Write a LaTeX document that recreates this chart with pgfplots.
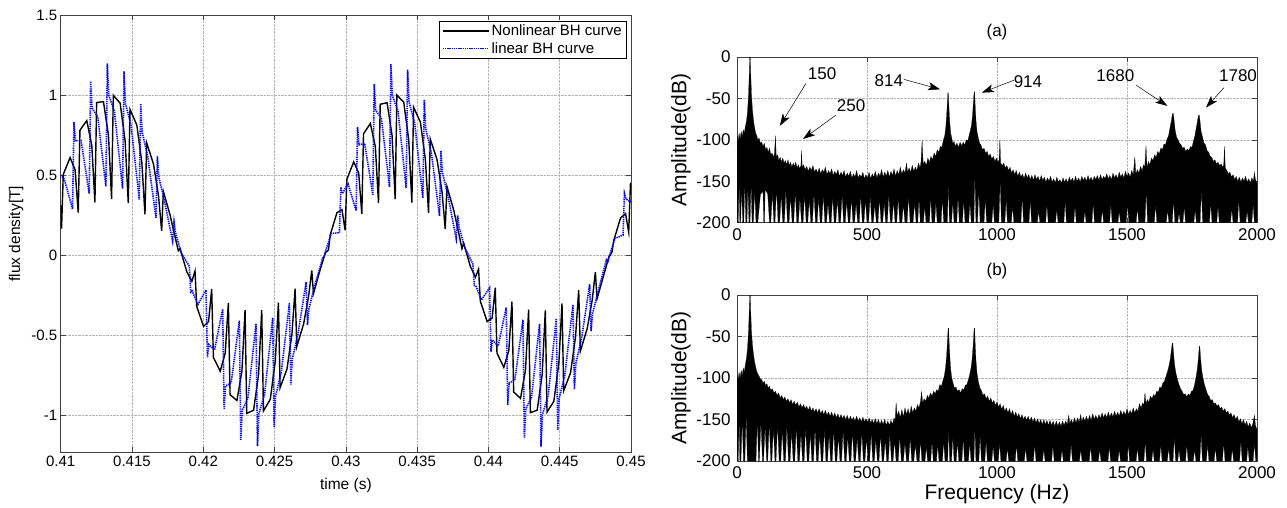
\documentclass[border=0pt]{standalone}
\usepackage{fontspec}
\setmainfont{Liberation Sans}
\usepackage{pgfplots}
\pgfplotsset{compat=1.18}
\usetikzlibrary{arrows.meta}
\definecolor{lblue}{rgb}{0,0,1}
\begin{document}
\begin{tikzpicture}
\useasboundingbox (0pt,0pt) rectangle (1287pt,507pt);
\pgfplotsset{
  mstyle/.style={scale only axis, axis line style={black!75, line width=0.6pt},
    tick align=inside, major tick length=5pt, tick style={black!75, line width=0.6pt},
    grid=major, grid style={densely dotted, black!30, line width=0.5pt}},
}
% ---------------- left panel ----------------
\begin{axis}[mstyle, at={(60.7pt,54.7pt)}, anchor=south west, width=570.3pt, height=437.3pt,
  xmin=0.41, xmax=0.45, ymin=-1.233, ymax=1.5,
  xtick={0.41,0.415,0.42,0.425,0.43,0.435,0.44,0.445,0.45},
  xticklabels={0.41,0.415,0.42,0.425,0.43,0.435,0.44,0.445,0.45},
  ytick={-1,-0.5,0,0.5,1,1.5}, yticklabels={-1,-0.5,0,0.5,1,1.5},
  ticklabel style={font=\fontsize{15}{18}\selectfont},
  xlabel={time (s)}, ylabel={flux density[T]},
  label style={font=\fontsize{15.5}{18}\selectfont},
  xlabel style={at={(axis description cs:0.5,-0.077)}, anchor=center},
  ylabel style={at={(axis description cs:-0.078,0.5)}, anchor=center},
  legend style={at={(axis description cs:1,1)}, anchor=north east, xshift=-4pt, yshift=-5.7pt,
    draw=black, line width=0.6pt, font=\fontsize{15}{18}\selectfont, row sep=1pt},
  legend cell align=left,
  legend image code/.code={\draw[#1] (0pt,0pt) -- (46pt,0pt);},
]
\addplot[black, line width=1.4pt] coordinates {
(0.41000,0.31)
(0.41006,0.165)(0.41018,0.504)(0.41066,0.609)(0.41101,0.532)
(0.41123,0.265)(0.41135,0.780)(0.41183,0.840)(0.41218,0.686)
(0.41240,0.329)(0.41252,0.953)(0.41300,0.958)(0.41335,0.749)
(0.41357,0.350)(0.41369,0.998)(0.41417,0.949)(0.41452,0.712)
(0.41474,0.324)(0.41486,0.910)(0.41534,0.812)(0.41569,0.579)
(0.41591,0.254)(0.41603,0.701)(0.41651,0.568)(0.41686,0.370)
(0.41708,0.151)(0.41720,0.397)(0.41768,0.247)(0.41803,0.110)
(0.41825,0.027)(0.41837,0.041)(0.41885,-0.106)(0.41920,-0.164)
(0.41942,-0.100)(0.41954,-0.321)(0.42002,-0.446)(0.42037,-0.416)
(0.42059,-0.214)(0.42071,-0.640)(0.42119,-0.726)(0.42154,-0.612)
(0.42176,-0.299)(0.42188,-0.873)(0.42236,-0.909)(0.42271,-0.727)
(0.42293,-0.344)(0.42305,-0.990)(0.42353,-0.970)(0.42388,-0.745)
(0.42410,-0.344)(0.42422,-0.975)(0.42470,-0.902)(0.42505,-0.663)
(0.42527,-0.297)(0.42539,-0.829)(0.42587,-0.713)(0.42622,-0.493)
(0.42644,-0.211)(0.42656,-0.572)(0.42704,-0.430)(0.42739,-0.256)
(0.42761,-0.097)(0.42773,-0.240)(0.42821,-0.088)(0.42856,0.014)
(0.42878,0.031)(0.42890,0.125)(0.42938,0.265)(0.42973,0.283)
(0.42995,0.154)(0.43007,0.473)(0.43055,0.582)(0.43090,0.513)
(0.43112,0.257)(0.43124,0.758)(0.43172,0.822)(0.43207,0.676)
(0.43229,0.325)(0.43241,0.942)(0.43289,0.952)(0.43324,0.748)
(0.43346,0.350)(0.43358,1.000)(0.43406,0.955)(0.43441,0.720)
(0.43463,0.328)(0.43475,0.924)(0.43523,0.830)(0.43558,0.596)
(0.43580,0.263)(0.43592,0.725)(0.43640,0.595)(0.43675,0.392)
(0.43697,0.162)(0.43709,0.429)(0.43757,0.279)(0.43792,0.136)
(0.43814,0.040)(0.43826,0.075)(0.43874,-0.073)(0.43909,-0.138)
(0.43931,-0.088)(0.43943,-0.288)(0.43991,-0.416)(0.44026,-0.394)
(0.44048,-0.204)(0.44060,-0.613)(0.44108,-0.702)(0.44143,-0.597)
(0.44165,-0.292)(0.44177,-0.856)(0.44225,-0.896)(0.44260,-0.720)
(0.44282,-0.342)(0.44294,-0.985)(0.44342,-0.970)(0.44377,-0.747)
(0.44399,-0.346)(0.44411,-0.982)(0.44459,-0.914)(0.44494,-0.675)
(0.44516,-0.303)(0.44528,-0.848)(0.44576,-0.736)(0.44611,-0.511)
(0.44633,-0.220)(0.44645,-0.600)(0.44693,-0.459)(0.44728,-0.281)
(0.44750,-0.108)(0.44762,-0.273)(0.44810,-0.122)(0.44845,-0.012)
(0.44867,0.019)(0.44879,0.091)(0.44927,0.232)(0.44962,0.258)
(0.44984,0.143)(0.44996,0.443)(0.45000,0.45)
};
\addlegendentry{Nonlinear BH curve}
\addplot[lblue, line width=1.6pt, dash pattern=on 1.3pt off 0.9pt] coordinates {
(0.41000,0.50)(0.41026,0.472)(0.41083,0.287)
(0.41093,0.830)(0.41103,0.714)(0.41143,0.716)(0.41200,0.383)
(0.41210,1.086)(0.41220,0.918)(0.41260,0.864)(0.41317,0.428)
(0.41327,1.197)(0.41337,0.999)(0.41377,0.897)(0.41434,0.415)
(0.41444,1.148)(0.41454,0.947)(0.41494,0.809)(0.41551,0.347)
(0.41561,0.946)(0.41571,0.769)(0.41611,0.614)(0.41668,0.233)
(0.41678,0.617)(0.41688,0.487)(0.41728,0.337)(0.41785,0.087)
(0.41795,0.206)(0.41805,0.141)(0.41845,0.014)(0.41902,-0.070)
(0.41912,-0.232)(0.41922,-0.224)(0.41962,-0.310)(0.42019,-0.218)
(0.42029,-0.640)(0.42039,-0.559)(0.42079,-0.593)(0.42136,-0.337)
(0.42146,-0.962)(0.42156,-0.820)(0.42196,-0.797)(0.42253,-0.410)
(0.42263,-1.155)(0.42273,-0.971)(0.42313,-0.894)(0.42370,-0.429)
(0.42380,-1.195)(0.42390,-0.992)(0.42430,-0.872)(0.42487,-0.391)
(0.42497,-1.074)(0.42507,-0.881)(0.42547,-0.733)(0.42604,-0.300)
(0.42614,-0.810)(0.42624,-0.652)(0.42664,-0.496)(0.42721,-0.170)
(0.42731,-0.438)(0.42741,-0.336)(0.42781,-0.194)(0.42838,-0.016)
(0.42848,-0.008)(0.42858,0.025)(0.42898,0.135)(0.42955,0.139)
(0.42965,0.424)(0.42975,0.383)(0.43015,0.446)(0.43072,0.276)
(0.43082,0.799)(0.43092,0.689)(0.43132,0.697)(0.43189,0.376)
(0.43199,1.068)(0.43209,0.904)(0.43249,0.855)(0.43306,0.426)
(0.43316,1.193)(0.43326,0.997)(0.43366,0.899)(0.43423,0.419)
(0.43433,1.159)(0.43443,0.958)(0.43483,0.823)(0.43540,0.356)
(0.43550,0.971)(0.43560,0.790)(0.43600,0.636)(0.43657,0.245)
(0.43667,0.653)(0.43677,0.517)(0.43717,0.365)(0.43774,0.102)
(0.43784,0.247)(0.43794,0.175)(0.43834,0.045)(0.43891,-0.055)
(0.43901,-0.191)(0.43911,-0.191)(0.43951,-0.281)(0.44008,-0.205)
(0.44018,-0.604)(0.44028,-0.531)(0.44068,-0.569)(0.44125,-0.327)
(0.44135,-0.937)(0.44145,-0.800)(0.44185,-0.782)(0.44242,-0.405)
(0.44252,-1.144)(0.44262,-0.962)(0.44302,-0.890)(0.44359,-0.430)
(0.44369,-1.198)(0.44379,-0.996)(0.44419,-0.879)(0.44476,-0.397)
(0.44486,-1.092)(0.44496,-0.897)(0.44536,-0.751)(0.44593,-0.311)
(0.44603,-0.840)(0.44613,-0.678)(0.44653,-0.522)(0.44710,-0.183)
(0.44720,-0.477)(0.44730,-0.368)(0.44770,-0.224)(0.44827,-0.031)
(0.44837,-0.049)(0.44847,-0.009)(0.44887,0.103)(0.44944,0.125)
(0.44954,0.385)(0.44964,0.351)(0.45000,0.33)
};
\addlegendentry{linear BH curve}
\end{axis}
% ---------------- right top (a) ----------------
\begin{axis}[mstyle, at={(737pt,284.3pt)}, anchor=south west, width=520pt, height=165.7pt,
  xmin=0, xmax=2000, ymin=-200, ymax=0,
  xtick={0,500,1000,1500,2000}, xticklabels={0,500,1000,1500,2000},
  ytick={-200,-150,-100,-50,0}, yticklabels={-200,-150,-100,-50,0},
  ticklabel style={font=\fontsize{17}{20}\selectfont},
  xticklabel style={yshift=-2pt}, yticklabel style={xshift=-3pt},
  ylabel={Amplitude(dB)},
  label style={font=\fontsize{21}{24}\selectfont},
  ylabel style={at={(axis description cs:-0.108,0.5)}, anchor=center},
  title={(a)}, title style={at={(axis description cs:0.5,1)}, anchor=center, yshift=18.7pt, font=\fontsize{17}{20}\selectfont},
]
\addplot[fill=black, draw=black, line width=0.2pt] coordinates {
(0,-200)(0,-95)(4,-102)(8,-92)(12,-99)(16,-90)(20,-96)(24,-88)(28,-92)(32,-84)(36,-78)(40,-68)(44,-48)(47,-22)(49,0)(51,0)(53,-22)(56,-48)(60,-66)(64,-78)(68,-86)(72,-92)(76,-95)(80,-100)(85,-98)(90,-104)(95,-103)(100,-108)(105,-104)(110,-112)(115,-109)(120,-115)(125,-110)(130,-118)(135,-116)(140,-121)(144,-117)(148,-95)(151,-121)(156,-118)(161,-125)(166,-121)(171,-127)(176,-122)(181,-128)(186,-125)(191,-130)(196,-124)(201,-131)(206,-127)(211,-133)(216,-128)(221,-132)(226,-127)(231,-134)(236,-130)(241,-135)(246,-131)(248,-113)(251,-134)(256,-130)(262,-136)(268,-132)(274,-138)(280,-133)(286,-137)(292,-131)(298,-139)(304,-135)(310,-140)(316,-134)(322,-141)(328,-136)(334,-139)(340,-133)(346,-142)(352,-137)(358,-141)(364,-135)(370,-143)(376,-138)(382,-142)(388,-136)(394,-144)(400,-139)(406,-143)(412,-137)(418,-145)(424,-140)(430,-144)(436,-138)(442,-146)(448,-141)(454,-145)(460,-137)(466,-146)(472,-142)(478,-145)(484,-139)(490,-147)(496,-142)(502,-146)(508,-139)(514,-147)(520,-141)(526,-145)(532,-138)(538,-146)(544,-140)(550,-144)(556,-136)(562,-145)(568,-139)(574,-144)(580,-137)(586,-145)(592,-138)(598,-143)(604,-135)(610,-144)(616,-137)(622,-142)(628,-133)(634,-141)(640,-136)(646,-140)(652,-128)(656,-139)(662,-134)(668,-139)(674,-131)(680,-138)(686,-133)(692,-137)(698,-128)(704,-134)(708,-126)(712,-100)(716,-129)(722,-126)(728,-131)(734,-122)(740,-127)(746,-120)(752,-124)(758,-116)(764,-120)(770,-112)(776,-115)(782,-108)(788,-109)(794,-100)(799,-95)(803,-85)(806,-72)(809,-56)(811,-43)(813,-43)(815,-60)(818,-78)(822,-92)(826,-98)(830,-104)(835,-102)(840,-108)(846,-104)(852,-109)(858,-103)(864,-107)(870,-103)(876,-106)(882,-100)(888,-101)(893,-94)(898,-88)(902,-82)(906,-70)(909,-56)(912,-42)(914,-42)(916,-58)(919,-76)(923,-90)(928,-98)(933,-104)(938,-106)(944,-112)(950,-110)(956,-116)(962,-114)(968,-120)(974,-117)(980,-123)(986,-120)(992,-126)(998,-122)(1004,-127)(1008,-124)(1011,-100)(1014,-128)(1020,-131)(1026,-128)(1032,-134)(1038,-131)(1044,-137)(1050,-133)(1056,-140)(1062,-136)(1068,-142)(1074,-137)(1080,-144)(1086,-139)(1092,-145)(1098,-141)(1104,-147)(1110,-140)(1116,-146)(1122,-142)(1128,-148)(1134,-143)(1140,-149)(1146,-142)(1152,-148)(1158,-144)(1164,-150)(1170,-143)(1176,-149)(1182,-145)(1188,-151)(1194,-146)(1200,-150)(1206,-144)(1212,-151)(1218,-147)(1224,-152)(1230,-145)(1236,-151)(1242,-148)(1248,-152)(1254,-146)(1260,-151)(1266,-147)(1272,-152)(1278,-145)(1284,-150)(1290,-146)(1296,-151)(1302,-144)(1308,-150)(1314,-146)(1320,-151)(1326,-144)(1332,-149)(1338,-145)(1344,-150)(1350,-143)(1356,-149)(1362,-145)(1368,-150)(1374,-144)(1380,-148)(1386,-143)(1392,-149)(1398,-142)(1404,-148)(1410,-144)(1416,-147)(1422,-141)(1428,-147)(1434,-143)(1440,-148)(1446,-140)(1452,-146)(1458,-142)(1464,-147)(1470,-139)(1476,-145)(1482,-141)(1488,-146)(1494,-138)(1500,-144)(1506,-140)(1512,-145)(1518,-137)(1524,-142)(1530,-121)(1534,-141)(1540,-136)(1546,-140)(1552,-132)(1558,-137)(1564,-130)(1568,-134)(1573,-107)(1577,-134)(1582,-126)(1588,-130)(1594,-122)(1600,-125)(1606,-118)(1612,-121)(1618,-114)(1624,-117)(1630,-110)(1636,-112)(1642,-105)(1648,-106)(1654,-99)(1660,-95)(1665,-86)(1670,-78)(1674,-70)(1676,-68)(1678,-68)(1681,-76)(1685,-88)(1690,-96)(1696,-100)(1702,-104)(1708,-106)(1714,-110)(1720,-109)(1726,-114)(1732,-111)(1738,-113)(1744,-108)(1750,-109)(1756,-101)(1761,-95)(1766,-86)(1770,-79)(1774,-72)(1776,-70)(1778,-70)(1781,-78)(1785,-90)(1790,-96)(1796,-104)(1802,-106)(1808,-113)(1814,-115)(1820,-120)(1826,-121)(1832,-126)(1838,-124)(1844,-129)(1850,-127)(1856,-131)(1862,-129)(1868,-133)(1872,-130)(1875,-108)(1878,-134)(1884,-137)(1890,-141)(1896,-139)(1902,-145)(1908,-142)(1914,-148)(1920,-144)(1926,-150)(1932,-145)(1938,-151)(1944,-146)(1950,-150)(1956,-144)(1962,-151)(1968,-147)(1974,-152)(1980,-146)(1986,-150)(1990,-139)(1994,-148)(2000,-152)(2000,-200)
(1990,-200)(1985,-178)(1980,-200)(1967,-200)(1962,-186)(1957,-200)(1935,-200)(1930,-172)(1925,-200)(1908,-200)(1903,-183)(1898,-200)(1855,-200)(1850,-180)(1845,-200)(1827,-200)(1822,-176)(1817,-200)(1791,-200)(1786,-160)(1781,-200)(1767,-200)(1762,-185)(1757,-200)(1725,-200)(1720,-180)(1715,-200)(1705,-200)(1700,-188)(1695,-200)(1684,-200)(1679,-172)(1674,-200)(1661,-200)(1656,-184)(1651,-200)(1615,-200)(1610,-178)(1605,-200)(1579,-200)(1574,-160)(1569,-200)(1545,-200)(1540,-182)(1535,-200)(1507,-200)(1502,-176)(1497,-200)(1475,-200)(1470,-186)(1465,-200)(1443,-200)(1438,-178)(1433,-200)(1410,-200)(1405,-184)(1400,-200)(1375,-200)(1370,-176)(1365,-200)(1343,-200)(1338,-186)(1333,-200)(1305,-200)(1300,-180)(1295,-200)(1267,-200)(1262,-174)(1257,-200)(1235,-200)(1230,-184)(1225,-200)(1197,-200)(1192,-178)(1187,-200)(1165,-200)(1160,-186)(1155,-200)(1133,-200)(1128,-172)(1123,-200)(1102,-200)(1097,-168)(1092,-200)(1065,-200)(1060,-180)(1055,-200)(1040,-200)(1035,-172)(1030,-200)(1017,-200)(1012,-150)(1007,-200)(990,-200)(985,-178)(980,-200)(960,-200)(955,-170)(950,-200)(935,-200)(930,-160)(925,-200)(919,-200)(915,-140)(911,-200)(901,-200)(896,-176)(891,-200)(877,-200)(872,-172)(867,-200)(855,-200)(850,-168)(845,-200)(835,-200)(830,-175)(825,-200)(817,-200)(813,-150)(809,-200)(795,-200)(790,-170)(785,-200)(770,-200)(765,-175)(760,-200)(750,-200)(745,-168)(740,-200)(727,-200)(722,-180)(717,-200)(705,-200)(700,-170)(695,-200)(689,-200)(683,-176)(677,-200)(666,-200)(660,-168)(654,-200)(646,-200)(640,-178)(634,-200)(626,-200)(620,-170)(614,-200)(608,-200)(602,-174)(596,-200)(590,-200)(584,-166)(578,-200)(572,-200)(566,-176)(560,-200)(554,-200)(548,-170)(542,-200)(536,-200)(530,-178)(524,-200)(518,-200)(512,-168)(506,-200)(500,-200)(494,-172)(488,-200)(482,-200)(476,-166)(470,-200)(464,-200)(458,-176)(452,-200)(446,-200)(440,-170)(434,-200)(428,-200)(422,-174)(416,-200)(410,-200)(404,-166)(398,-200)(392,-200)(386,-172)(380,-200)(374,-200)(368,-168)(362,-200)(356,-200)(350,-176)(344,-200)(338,-200)(332,-166)(326,-200)(320,-200)(314,-170)(308,-200)(302,-200)(296,-164)(290,-200)(284,-200)(278,-172)(272,-200)(266,-200)(260,-166)(254,-200)(248,-200)(242,-170)(236,-200)(230,-200)(224,-162)(218,-200)(212,-200)(206,-168)(200,-200)(194,-200)(188,-160)(182,-200)(176,-200)(170,-166)(164,-200)(158,-200)(152,-158)(146,-200)(142,-200)(136,-164)(130,-200)(125,-200)(118,-165)(108,-160)(106,-200)(103,-200)(100,-162)(90,-166)(80,-200)(73,-200)(68,-160)(63,-200)(58,-200)(54,-150)(50,-200)(46,-200)(42,-156)(38,-200)(34,-200)(30,-150)(26,-200)(22,-200)(18,-158)(14,-200)(11,-200)(8,-150)(5,-200)(0,-200)
};
\begin{scope}[font=\fontsize{17}{20}\selectfont]
\node at (axis cs:327,-20.5) {150};
\node at (axis cs:439,-59) {250};
\node at (axis cs:584,-28) {814};
\node at (axis cs:1119,-30) {914};
\node at (axis cs:1455,-22) {1680};
\node at (axis cs:1927,-22) {1780};
\end{scope}
\begin{scope}[line width=0.5pt, -{Stealth[length=12pt,width=8pt,inset=3pt]}]
\draw (axis cs:265,-32) -- (axis cs:165,-83);
\draw (axis cs:381,-70) -- (axis cs:254,-99);
\draw (axis cs:642,-27) -- (axis cs:781,-39);
\draw (axis cs:1065,-28) -- (axis cs:942,-43);
\draw (axis cs:1535,-34) -- (axis cs:1655,-59);
\draw (axis cs:1873,-37) -- (axis cs:1804,-61);
\end{scope}
\end{axis}
% ---------------- right bottom (b) ----------------
\begin{axis}[mstyle, at={(737pt,46pt)}, anchor=south west, width=520pt, height=166pt,
  xmin=0, xmax=2000, ymin=-200, ymax=0,
  xtick={0,500,1000,1500,2000}, xticklabels={0,500,1000,1500,2000},
  ytick={-200,-150,-100,-50,0}, yticklabels={-200,-150,-100,-50,0},
  ticklabel style={font=\fontsize{17}{20}\selectfont},
  xticklabel style={yshift=-2pt}, yticklabel style={xshift=-3pt},
  xlabel={Frequency (Hz)}, ylabel={Amplitude(dB)},
  label style={font=\fontsize{21}{24}\selectfont},
  xlabel style={at={(axis description cs:0.5,-0.2)}, anchor=center},
  ylabel style={at={(axis description cs:-0.108,0.5)}, anchor=center},
  title={(b)}, title style={at={(axis description cs:0.5,1)}, anchor=center, yshift=17.7pt, font=\fontsize{17}{20}\selectfont},
]
\addplot[fill=black, draw=black, line width=0.2pt] coordinates {
(0,-200)(0,-96)(4,-103)(8,-93)(12,-100)(16,-91)(20,-97)(24,-88)(28,-93)(32,-84)(36,-77)(40,-66)(44,-46)(47,-20)(49,0)(51,0)(53,-22)(56,-46)(60,-62)(64,-73)(68,-81)(72,-87)(76,-92)(80,-95)(85,-98)(90,-101)(95,-102)(100,-106)(105,-104)(110,-109)(115,-107)(120,-112)(125,-110)(130,-115)(136,-113)(142,-118)(148,-116)(154,-121)(160,-118)(166,-124)(172,-121)(178,-126)(184,-123)(190,-128)(196,-125)(202,-130)(208,-126)(214,-132)(220,-128)(226,-133)(232,-129)(238,-135)(244,-131)(250,-136)(256,-132)(262,-137)(268,-134)(274,-139)(280,-134)(286,-140)(292,-136)(298,-141)(304,-137)(310,-142)(316,-137)(322,-143)(328,-139)(334,-144)(340,-139)(346,-145)(352,-141)(358,-146)(364,-141)(370,-147)(376,-142)(382,-148)(388,-143)(394,-149)(400,-144)(406,-149)(412,-145)(418,-150)(424,-145)(430,-151)(436,-146)(442,-151)(448,-147)(454,-152)(460,-146)(466,-152)(472,-148)(478,-153)(484,-147)(490,-153)(496,-149)(502,-154)(508,-148)(514,-154)(520,-150)(526,-155)(532,-149)(538,-155)(544,-150)(550,-156)(556,-151)(562,-156)(568,-150)(574,-157)(580,-152)(586,-157)(592,-151)(598,-156)(604,-148)(608,-152)(612,-130)(616,-146)(622,-140)(628,-148)(634,-138)(640,-147)(646,-136)(652,-144)(658,-137)(664,-145)(670,-134)(676,-142)(682,-136)(688,-140)(694,-132)(700,-136)(706,-128)(710,-116)(714,-130)(720,-125)(726,-128)(732,-121)(738,-124)(744,-118)(750,-122)(756,-116)(762,-119)(768,-114)(774,-116)(780,-108)(786,-110)(792,-103)(797,-98)(802,-88)(806,-74)(809,-58)(812,-40)(814,-40)(816,-58)(819,-76)(822,-90)(826,-100)(831,-106)(836,-112)(842,-111)(848,-116)(854,-114)(860,-118)(866,-113)(872,-114)(878,-109)(884,-108)(890,-102)(895,-96)(900,-88)(904,-78)(908,-62)(912,-40)(914,-40)(916,-58)(919,-78)(923,-94)(928,-104)(934,-112)(940,-115)(946,-121)(952,-119)(958,-125)(964,-122)(970,-128)(976,-124)(982,-130)(988,-127)(994,-133)(1000,-129)(1006,-135)(1012,-131)(1018,-138)(1024,-133)(1030,-140)(1036,-136)(1042,-142)(1048,-137)(1054,-144)(1060,-139)(1066,-146)(1072,-141)(1078,-147)(1084,-143)(1090,-149)(1096,-144)(1102,-150)(1108,-146)(1114,-151)(1120,-146)(1126,-152)(1132,-147)(1138,-153)(1144,-148)(1150,-154)(1156,-149)(1162,-155)(1168,-150)(1174,-156)(1180,-150)(1186,-156)(1192,-151)(1198,-157)(1204,-151)(1210,-157)(1216,-152)(1222,-158)(1228,-152)(1234,-158)(1240,-153)(1246,-158)(1252,-152)(1258,-157)(1264,-152)(1270,-156)(1276,-145)(1280,-155)(1286,-150)(1292,-155)(1298,-148)(1304,-154)(1310,-148)(1316,-153)(1322,-144)(1326,-153)(1332,-147)(1338,-152)(1344,-146)(1350,-152)(1356,-145)(1362,-151)(1368,-143)(1374,-150)(1380,-145)(1386,-150)(1392,-144)(1398,-149)(1404,-142)(1410,-148)(1416,-143)(1422,-148)(1428,-141)(1434,-147)(1440,-142)(1446,-147)(1452,-140)(1458,-146)(1464,-141)(1470,-146)(1476,-139)(1482,-145)(1488,-140)(1494,-145)(1500,-137)(1506,-144)(1512,-139)(1518,-143)(1524,-136)(1530,-142)(1536,-137)(1542,-140)(1548,-131)(1554,-136)(1560,-130)(1565,-133)(1569,-118)(1573,-131)(1578,-126)(1584,-129)(1590,-122)(1596,-125)(1602,-120)(1608,-122)(1614,-116)(1620,-117)(1626,-111)(1632,-112)(1638,-106)(1644,-104)(1650,-98)(1656,-92)(1661,-86)(1666,-78)(1670,-68)(1674,-58)(1676,-58)(1679,-70)(1683,-84)(1688,-94)(1694,-102)(1700,-108)(1706,-113)(1712,-116)(1718,-120)(1724,-119)(1730,-123)(1736,-119)(1742,-121)(1748,-116)(1754,-115)(1760,-108)(1765,-100)(1770,-90)(1774,-78)(1778,-62)(1780,-62)(1783,-76)(1787,-90)(1792,-100)(1798,-108)(1804,-114)(1810,-120)(1816,-122)(1822,-127)(1828,-126)(1834,-131)(1840,-130)(1846,-134)(1852,-132)(1858,-137)(1864,-135)(1870,-140)(1876,-137)(1882,-142)(1888,-140)(1894,-145)(1900,-142)(1906,-148)(1912,-144)(1918,-150)(1924,-146)(1930,-153)(1936,-149)(1942,-155)(1948,-150)(1954,-157)(1960,-152)(1966,-159)(1972,-154)(1978,-160)(1984,-155)(1990,-145)(1994,-157)(2000,-162)(2000,-200)
(1995,-200)(1990,-178)(1985,-200)(1970,-200)(1965,-182)(1960,-200)(1943,-200)(1938,-176)(1933,-200)(1910,-200)(1905,-185)(1900,-200)(1877,-200)(1872,-178)(1867,-200)(1845,-200)(1840,-184)(1835,-200)(1815,-200)(1810,-180)(1805,-200)(1790,-200)(1785,-168)(1780,-200)(1765,-200)(1760,-186)(1755,-200)(1735,-200)(1730,-180)(1725,-200)(1705,-200)(1700,-186)(1695,-200)(1687,-200)(1682,-170)(1677,-200)(1665,-200)(1660,-184)(1655,-200)(1635,-200)(1630,-180)(1625,-200)(1605,-200)(1600,-186)(1595,-200)(1575,-200)(1570,-176)(1565,-200)(1545,-200)(1540,-184)(1535,-200)(1510,-200)(1505,-180)(1500,-200)(1475,-200)(1470,-186)(1465,-200)(1437,-200)(1432,-182)(1427,-200)(1400,-200)(1395,-186)(1390,-200)(1365,-200)(1360,-182)(1355,-200)(1327,-200)(1322,-186)(1317,-200)(1290,-200)(1285,-180)(1280,-200)(1255,-200)(1250,-186)(1245,-200)(1220,-200)(1215,-182)(1210,-200)(1185,-200)(1180,-186)(1175,-200)(1150,-200)(1145,-180)(1140,-200)(1115,-200)(1110,-184)(1105,-200)(1080,-200)(1075,-180)(1070,-200)(1045,-200)(1040,-184)(1035,-200)(1015,-200)(1010,-178)(1005,-200)(990,-200)(985,-182)(980,-200)(963,-200)(958,-176)(953,-200)(940,-200)(935,-170)(930,-200)(919,-200)(915,-160)(911,-200)(900,-200)(895,-178)(890,-200)(875,-200)(870,-172)(865,-200)(853,-200)(848,-176)(843,-200)(835,-200)(830,-170)(825,-200)(818,-200)(814,-160)(810,-200)(800,-200)(795,-176)(790,-200)(777,-200)(772,-180)(767,-200)(755,-200)(750,-176)(745,-200)(733,-200)(728,-182)(723,-200)(711,-200)(706,-174)(701,-200)(692,-200)(686,-180)(680,-200)(672,-200)(666,-172)(660,-200)(652,-200)(646,-178)(640,-200)(632,-200)(626,-170)(620,-200)(612,-200)(606,-175)(600,-200)(594,-200)(588,-168)(582,-200)(576,-200)(570,-175)(564,-200)(558,-200)(552,-167)(546,-200)(540,-200)(534,-174)(528,-200)(522,-200)(516,-166)(510,-200)(504,-200)(498,-172)(492,-200)(486,-200)(480,-165)(474,-200)(468,-200)(462,-172)(456,-200)(450,-200)(444,-164)(438,-200)(432,-200)(426,-170)(420,-200)(414,-200)(408,-163)(402,-200)(396,-200)(390,-170)(384,-200)(378,-200)(372,-162)(366,-200)(360,-200)(354,-168)(348,-200)(342,-200)(336,-161)(330,-200)(324,-200)(318,-168)(312,-200)(306,-200)(300,-160)(294,-200)(288,-200)(282,-166)(276,-200)(270,-200)(264,-159)(258,-200)(252,-200)(246,-166)(240,-200)(234,-200)(228,-158)(222,-200)(216,-200)(210,-164)(204,-200)(198,-200)(192,-157)(186,-200)(180,-200)(174,-162)(168,-200)(162,-200)(156,-155)(150,-200)(146,-200)(140,-160)(134,-200)(130,-200)(124,-154)(118,-200)(114,-200)(108,-158)(102,-200)(98,-200)(92,-152)(86,-200)(83,-200)(78,-150)(73,-200)(40,-200)(35,-145)(30,-200)(25,-200)(20,-150)(15,-200)(11,-200)(8,-148)(5,-200)(0,-200)
};
\end{axis}
\end{tikzpicture}
\end{document}
